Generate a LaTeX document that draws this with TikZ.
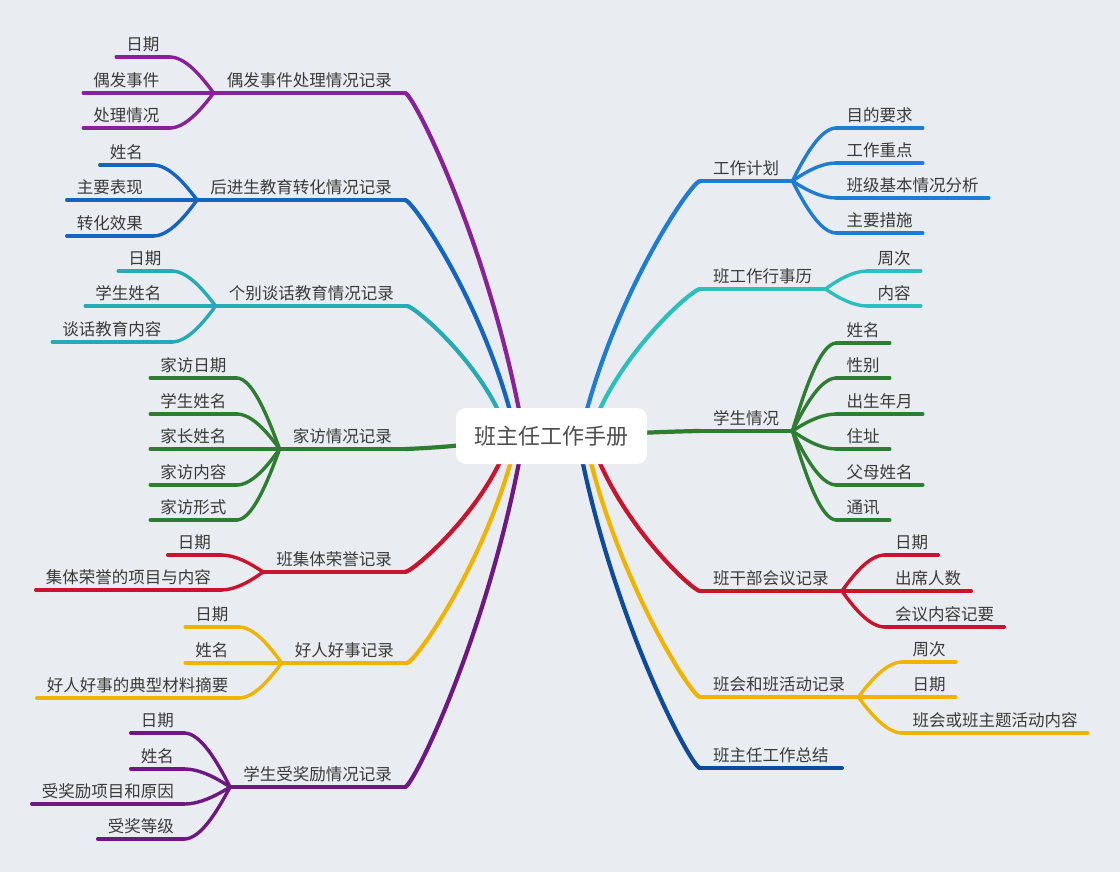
\documentclass[tikz,border=0pt]{standalone}
\usepackage{fontspec}
\newfontfamily\cjk{Noto Sans CJK SC}
\usetikzlibrary{calc}
\definecolor{bgc}{RGB}{233,236,240}
\definecolor{txt}{RGB}{58,58,58}
\definecolor{purA}{RGB}{135,35,150}
\definecolor{purB}{RGB}{110,25,130}
\definecolor{blueL}{RGB}{21,101,192}
\definecolor{tealL}{RGB}{38,170,180}
\definecolor{grn}{RGB}{46,125,50}
\definecolor{rd}{RGB}{200,20,45}
\definecolor{yel}{RGB}{240,180,0}
\definecolor{blueR}{RGB}{30,125,210}
\definecolor{tealR}{RGB}{45,190,190}
\definecolor{dblue}{RGB}{15,75,155}
\pgfdeclarelayer{back}
\pgfdeclarelayer{links}
\pgfsetlayers{back,links,main}
\tikzset{
  topic/.style={font=\cjk\fontsize{16.5}{20}\selectfont, text=txt, inner xsep=10pt, inner ysep=0pt, text height=13pt, text depth=6pt},
  maintopic/.style={topic, inner xsep=13pt},
  rootbox/.style={fill=white, rounded corners=10pt, minimum width=191pt, minimum height=56pt, inner sep=0pt, font=\cjk\fontsize{22}{26}\selectfont, text=txt!90!white},
  mline/.style={line width=4.2pt, line cap=round},
  sline/.style={line width=3.4pt, line cap=round},
}
\newcommand\mlink[3]{%
  \draw[mline,#1] let \p1=(#2), \p2=(#3) in (\p1) .. controls ({(\x1)+0.3*((\x2)-(\x1))},{(\y1)+0.55*((\y2)-(\y1))}) and ({(\x2)+0.07*((\x1)-(\x2))},{\y2}) .. (\p2);}
\newcommand\slink[3]{%
  \draw[sline,#1] let \p1=(#2), \p2=(#3) in (\p1) .. controls ({(\x1)+0.3*((\x2)-(\x1))},{(\y1)+0.5*((\y2)-(\y1))}) and ({(\x2)+0.35*((\x1)-(\x2))},{\y2}) .. (\p2);}
\newcommand\mt[5]{\node[maintopic,anchor=#3] (#2) at (#4) {#5}; \draw[mline,#1] (#2.south west) -- (#2.south east);}
\newcommand\st[5]{\node[topic,anchor=#3] (#2) at (#4) {#5}; \draw[sline,#1] (#2.south west) -- (#2.south east);}
\begin{document}
\begin{tikzpicture}[x=1pt,y=-1pt]
\begin{pgfonlayer}{back}
\fill[bgc] (0,0) rectangle (1120,872);
\end{pgfonlayer}
\useasboundingbox (0,0) rectangle (1120,872);
\node[rootbox] (root) at (551.5,436) {班主任工作手册};

% ---------- left side ----------
\mt{purA}{L1}{south east}{405,93}{偶发事件处理情况记录}
\st{purA}{L1a}{south east}{$(L1.south west)+(-44,-36)$}{日期}
\st{purA}{L1b}{south east}{$(L1.south west)+(-44,0)$}{偶发事件}
\st{purA}{L1c}{south east}{$(L1.south west)+(-44,35)$}{处理情况}

\mt{blueL}{L2}{south east}{405,200}{后进生教育转化情况记录}
\st{blueL}{L2a}{south east}{$(L2.south west)+(-44,-35)$}{姓名}
\st{blueL}{L2b}{south east}{$(L2.south west)+(-44,0)$}{主要表现}
\st{blueL}{L2c}{south east}{$(L2.south west)+(-44,36)$}{转化效果}

\mt{tealL}{L3}{south east}{407,306}{个别谈话教育情况记录}
\st{tealL}{L3a}{south east}{$(L3.south west)+(-44,-35)$}{日期}
\st{tealL}{L3b}{south east}{$(L3.south west)+(-44,0)$}{学生姓名}
\st{tealL}{L3c}{south east}{$(L3.south west)+(-44,36)$}{谈话教育内容}

\mt{grn}{L4}{south east}{405,449}{家访情况记录}
\st{grn}{L4a}{south east}{$(L4.south west)+(-43,-71)$}{家访日期}
\st{grn}{L4b}{south east}{$(L4.south west)+(-43,-35)$}{学生姓名}
\st{grn}{L4c}{south east}{$(L4.south west)+(-43,0)$}{家长姓名}
\st{grn}{L4d}{south east}{$(L4.south west)+(-43,36)$}{家访内容}
\st{grn}{L4e}{south east}{$(L4.south west)+(-43,71)$}{家访形式}

\mt{rd}{L5}{south east}{405,572}{班集体荣誉记录}
\st{rd}{L5a}{south east}{$(L5.south west)+(-42,-17)$}{日期}
\st{rd}{L5b}{south east}{$(L5.south west)+(-42,18)$}{集体荣誉的项目与内容}

\mt{yel}{L6}{south east}{407,663}{好人好事记录}
\st{yel}{L6a}{south east}{$(L6.south west)+(-43,-36)$}{日期}
\st{yel}{L6b}{south east}{$(L6.south west)+(-43,0)$}{姓名}
\st{yel}{L6c}{south east}{$(L6.south west)+(-43,35)$}{好人好事的典型材料摘要}

\mt{purB}{L7}{south east}{405,787}{学生受奖励情况记录}
\st{purB}{L7a}{south east}{$(L7.south west)+(-46,-54)$}{日期}
\st{purB}{L7b}{south east}{$(L7.south west)+(-46,-18)$}{姓名}
\st{purB}{L7c}{south east}{$(L7.south west)+(-46,17)$}{受奖励项目和原因}
\st{purB}{L7d}{south east}{$(L7.south west)+(-46,52)$}{受奖等级}

% ---------- right side ----------
\mt{blueR}{R1}{south west}{700,181}{工作计划}
\st{blueR}{R1a}{south west}{$(R1.south east)+(44,-53)$}{目的要求}
\st{blueR}{R1b}{south west}{$(R1.south east)+(44,-18)$}{工作重点}
\st{blueR}{R1c}{south west}{$(R1.south east)+(44,17)$}{班级基本情况分析}
\st{blueR}{R1d}{south west}{$(R1.south east)+(44,52)$}{主要措施}

\mt{tealR}{R2}{south west}{700,289}{班工作行事历}
\st{tealR}{R2a}{south west}{$(R2.south east)+(42,-18)$}{周次}
\st{tealR}{R2b}{south west}{$(R2.south east)+(42,17)$}{内容}

\mt{grn}{R3}{south west}{700,431}{学生情况}
\st{grn}{R3a}{south west}{$(R3.south east)+(44,-88)$}{姓名}
\st{grn}{R3b}{south west}{$(R3.south east)+(44,-53)$}{性别}
\st{grn}{R3c}{south west}{$(R3.south east)+(44,-17)$}{出生年月}
\st{grn}{R3d}{south west}{$(R3.south east)+(44,18)$}{住址}
\st{grn}{R3e}{south west}{$(R3.south east)+(44,54)$}{父母姓名}
\st{grn}{R3f}{south west}{$(R3.south east)+(44,89)$}{通讯}

\mt{rd}{R4}{south west}{700,591}{班干部会议记录}
\st{rd}{R4a}{south west}{$(R4.south east)+(43,-36)$}{日期}
\st{rd}{R4b}{south west}{$(R4.south east)+(43,0)$}{出席人数}
\st{rd}{R4c}{south west}{$(R4.south east)+(43,36)$}{会议内容记要}

\mt{yel}{R5}{south west}{700,697}{班会和班活动记录}
\st{yel}{R5a}{south west}{$(R5.south east)+(44,-35)$}{周次}
\st{yel}{R5b}{south west}{$(R5.south east)+(44,0)$}{日期}
\st{yel}{R5c}{south west}{$(R5.south east)+(44,36)$}{班会或班主题活动内容}

\mt{dblue}{R6}{south west}{700,768}{班主任工作总结}

% ---------- connectors ----------
\begin{pgfonlayer}{links}
\mlink{purA}{$(root.north west)+(64,6)$}{L1.south east}
\mlink{blueL}{$(root.north west)+(55,6)$}{L2.south east}
\mlink{tealL}{$(root.north west)+(44,6)$}{L3.south east}
\mlink{grn}{$(root.west)+(6,9)$}{L4.south east}
\mlink{rd}{$(root.south west)+(46,-6)$}{L5.south east}
\mlink{yel}{$(root.south west)+(56,-6)$}{L6.south east}
\mlink{purB}{$(root.south west)+(64,-6)$}{L7.south east}
\mlink{blueR}{$(root.north west)+(130,6)$}{R1.south west}
\mlink{tealR}{$(root.north west)+(142,6)$}{R2.south west}
\mlink{grn}{$(root.east)+(-6,-3)$}{R3.south west}
\mlink{rd}{$(root.south west)+(142,-6)$}{R4.south west}
\mlink{yel}{$(root.south west)+(134,-6)$}{R5.south west}
\mlink{dblue}{$(root.south west)+(126,-6)$}{R6.south west}

\foreach \mycol/\mypar/\mykid in {purA/L1/L1a,purA/L1/L1b,purA/L1/L1c,
  blueL/L2/L2a,blueL/L2/L2b,blueL/L2/L2c,
  tealL/L3/L3a,tealL/L3/L3b,tealL/L3/L3c,
  grn/L4/L4a,grn/L4/L4b,grn/L4/L4c,grn/L4/L4d,grn/L4/L4e,
  rd/L5/L5a,rd/L5/L5b,
  yel/L6/L6a,yel/L6/L6b,yel/L6/L6c,
  purB/L7/L7a,purB/L7/L7b,purB/L7/L7c,purB/L7/L7d}
  {\slink{\mycol}{\mypar.south west}{\mykid.south east}}
\foreach \mycol/\mypar/\mykid in {blueR/R1/R1a,blueR/R1/R1b,blueR/R1/R1c,blueR/R1/R1d,
  tealR/R2/R2a,tealR/R2/R2b,
  grn/R3/R3a,grn/R3/R3b,grn/R3/R3c,grn/R3/R3d,grn/R3/R3e,grn/R3/R3f,
  rd/R4/R4a,rd/R4/R4b,rd/R4/R4c,
  yel/R5/R5a,yel/R5/R5b,yel/R5/R5c}
  {\slink{\mycol}{\mypar.south east}{\mykid.south west}}
\end{pgfonlayer}
\end{tikzpicture}
\end{document}
